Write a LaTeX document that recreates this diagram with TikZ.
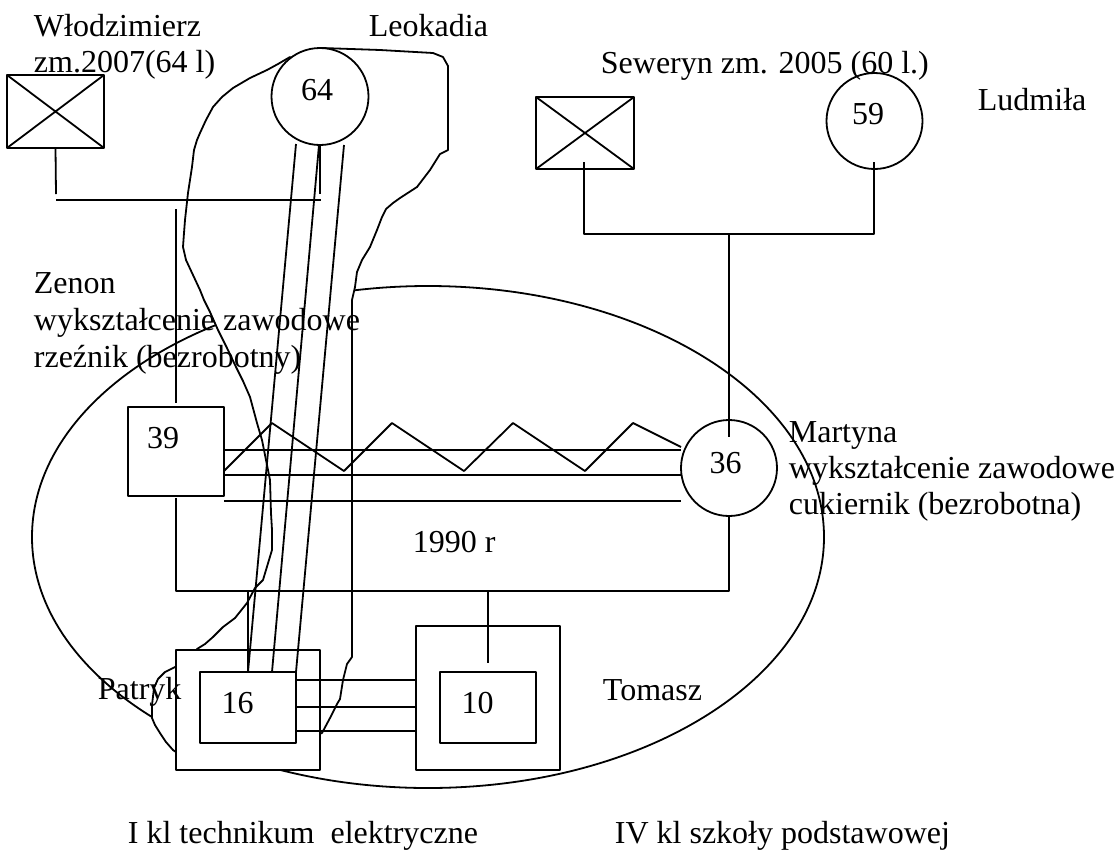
\documentclass[tikz,border=0pt]{standalone}
\usepackage{fontspec}
\setmainfont{Liberation Serif}
\usetikzlibrary{shapes.geometric}
\begin{document}
\begin{tikzpicture}[x=1pt,y=-1pt,line width=1.8pt,line join=round,
  lbl/.style={inner sep=0pt,anchor=base west,font=\fontsize{32}{37}\selectfont},
  num/.style={inner sep=0pt,anchor=base,font=\fontsize{32}{37}\selectfont},
  sq/.style={draw,rectangle,fill=white,inner sep=0pt,outer sep=0pt},
  ring/.style={draw,circle,fill=white,inner sep=0pt,outer sep=0pt,minimum size=96pt},
]
\useasboundingbox (0,0) rectangle (1116,852);

% household ellipse
\node[draw,ellipse,inner sep=0pt,outer sep=0pt,minimum width=792pt,minimum height=502pt] (home) at (428,537) {};

% freehand outline round Leokadia and Patryk
\draw[fill=white] (320,96) -- (322,48) -- (380,50) -- (433,53) -- (443,57) -- (448,66) -- (448,150)
  -- (440,154) -- (430,170) -- (417,187) -- (400,198) -- (393,203) -- (386,209) -- (382,217)
  -- (377,230) -- (370,247) -- (362,260) -- (357,272) -- (355,287) -- (352,300) -- (352,657)
  -- (347,664) -- (343,680) -- (340,699) -- (337,704) -- (330,718) -- (322,733)
  -- (300,740) -- (200,745) -- (176,752) -- (173,750) -- (166,742) -- (160,733) -- (155,725)
  -- (152,718) -- (152,705) -- (154,688) -- (158,679) -- (165,672) -- (175,667) -- (190,670)
  -- (197,649) -- (205,644) -- (213,637) -- (223,627) -- (235,618) -- (247,603) -- (255,588)
  -- (263,580) -- (266,570) -- (272,550) -- (272,530) -- (271,513) -- (270,480) -- (266,460)
  -- (262,440) -- (257,423) -- (250,397) -- (243,381) -- (236,367) -- (227,348) -- (218,330)
  -- (210,312) -- (204,300) -- (200,290) -- (193,275) -- (186,260) -- (183,247) -- (184,233)
  -- (185,220) -- (188,193) -- (190,180) -- (192,167) -- (194,150) -- (197,140) -- (200,133)
  -- (206,120) -- (213,107) -- (222,97) -- (233,88) -- (250,78) -- (267,70) -- (278,64)
  -- (290,57) -- cycle;

% children boxes
\node[sq,minimum width=144pt,minimum height=120pt] (pO) at (248,710) {};
\node[sq,minimum width=96pt,minimum height=71pt] (pI) at (248,707.5) {};
\node[sq,minimum width=144pt,minimum height=144pt] (tO) at (488,698) {};
\node[sq,minimum width=96pt,minimum height=71pt] (tI) at (488,707.5) {};

% persons
\node[ring,minimum size=97pt] (le) at (320,96.5) {};
\node[ring] (lu) at (874.5,121) {};
\node[ring] (ma) at (729,468) {};
\node[sq,minimum width=97pt,minimum height=73pt] (wl) at (55.5,111.5) {};
\draw (wl.north west) -- (wl.south east) (wl.north east) -- (wl.south west);
\node[sq,minimum width=98pt,minimum height=72pt] (se) at (585,133) {};
\draw (se.north west) -- (se.south east) (se.north east) -- (se.south west);
\node[sq,minimum width=96pt,minimum height=89pt] (ze) at (176,451.5) {};

% junction coordinates
\coordinate (wlJ) at (56,194);
\coordinate (leJ) at (320,194);
\coordinate (cplL) at (56,200);
\coordinate (cplR) at (321,200);
\coordinate (zeT) at (176,209);
\coordinate (sibL) at (176,591);
\coordinate (sibR) at (729,591);
\coordinate (pJ) at (248,591);
\coordinate (tJ) at (488,591);
\coordinate (seB) at (584,162);
\coordinate (luB) at (874,162);
\coordinate (seJ) at (584,234);
\coordinate (luJ) at (874,234);
\coordinate (maJ) at (729,234);
\coordinate (maT) at (729,437);
\coordinate (l1a) at (296,144);
\coordinate (l2a) at (319,145);
\coordinate (l3a) at (344,145);
\coordinate (l2b) at (272,672);

% Wlodzimierz + Leokadia
\draw (wl.south) -- (wlJ);
\draw ([yshift=-1pt]le.south) -- (leJ);
\draw (cplL) -- (cplR);
\draw (zeT) -- ([yshift=4pt]ze.north);

% Seweryn + Ludmila
\draw (seB) -- (seJ) -- (luJ) -- (luB);
\draw (maJ) -- (maT);

% Zenon + Martyna
\draw ([yshift=-2pt]ze.south) -- (sibL) -- (sibR) -- (ma.south);
\draw (pJ) -- (pI.north);
\draw (tJ) -- ([yshift=9pt]tI.north);
\foreach \yy in {450,475,501} {\draw (ze.east |- 0,\yy) -- (ma.west |- 0,\yy);}
\draw (ze.east |- 0,471) -- (272,423) -- (344,471) -- (392,423) -- (464,471) -- (513,423)
  -- (585,471) -- (633,423) -- (ma.west |- 0,447);

% Leokadia -- Patryk
\draw (l1a) -- (pI.north);
\draw (l2a) -- (l2b);
\draw (l3a) -- (pI.north east);

% Patryk -- Tomasz
\foreach \yy in {680,707,731} {\draw (pI.east |- 0,\yy) -- (tO.west |- 0,\yy);}

% numbers
\node[num] (n64) at (317,100) {64};
\node[num] (n59) at (868,124) {59};
\node[num] (n36) at (725.5,473) {36};
\node[num] (n39) at (163,448) {39};
\node[num] (n16) at (237.5,713) {16};
\node[num] (n10) at (477.5,713) {10};

% labels
\node[lbl] (t1) at (33,36) {Włodzimierz};
\node[lbl] (t2) at (33,72) {zm.2007(64 l)};
\node[lbl] (t3) at (368,36) {Leokadia};
\node[lbl] (t4) at (600,73) {Seweryn zm. 2005 (60 l.)};
\node[lbl] (t5) at (977,110) {Ludmiła};
\node[lbl] (t6) at (33,293) {Zenon};
\node[lbl] (t7) at (33,330) {wykształcenie zawodowe};
\node[lbl] (t8) at (33,367) {rzeźnik (bezrobotny)};
\node[lbl] (t9) at (788,442) {Martyna};
\node[lbl] (t10) at (788,478) {wykształcenie zawodowe};
\node[lbl] (t11) at (788,514) {cukiernik (bezrobotna)};
\node[lbl] (t12) at (412,552) {1990 r};
\node[lbl] (t13) at (97,699) {Patryk};
\node[lbl] (t14) at (602,700) {Tomasz};
\node[lbl] (t15) at (127,843) {I kl technikum~ elektryczne};
\node[lbl] (t16) at (614,843) {IV kl szkoły podstawowej};
\end{tikzpicture}
\end{document}
